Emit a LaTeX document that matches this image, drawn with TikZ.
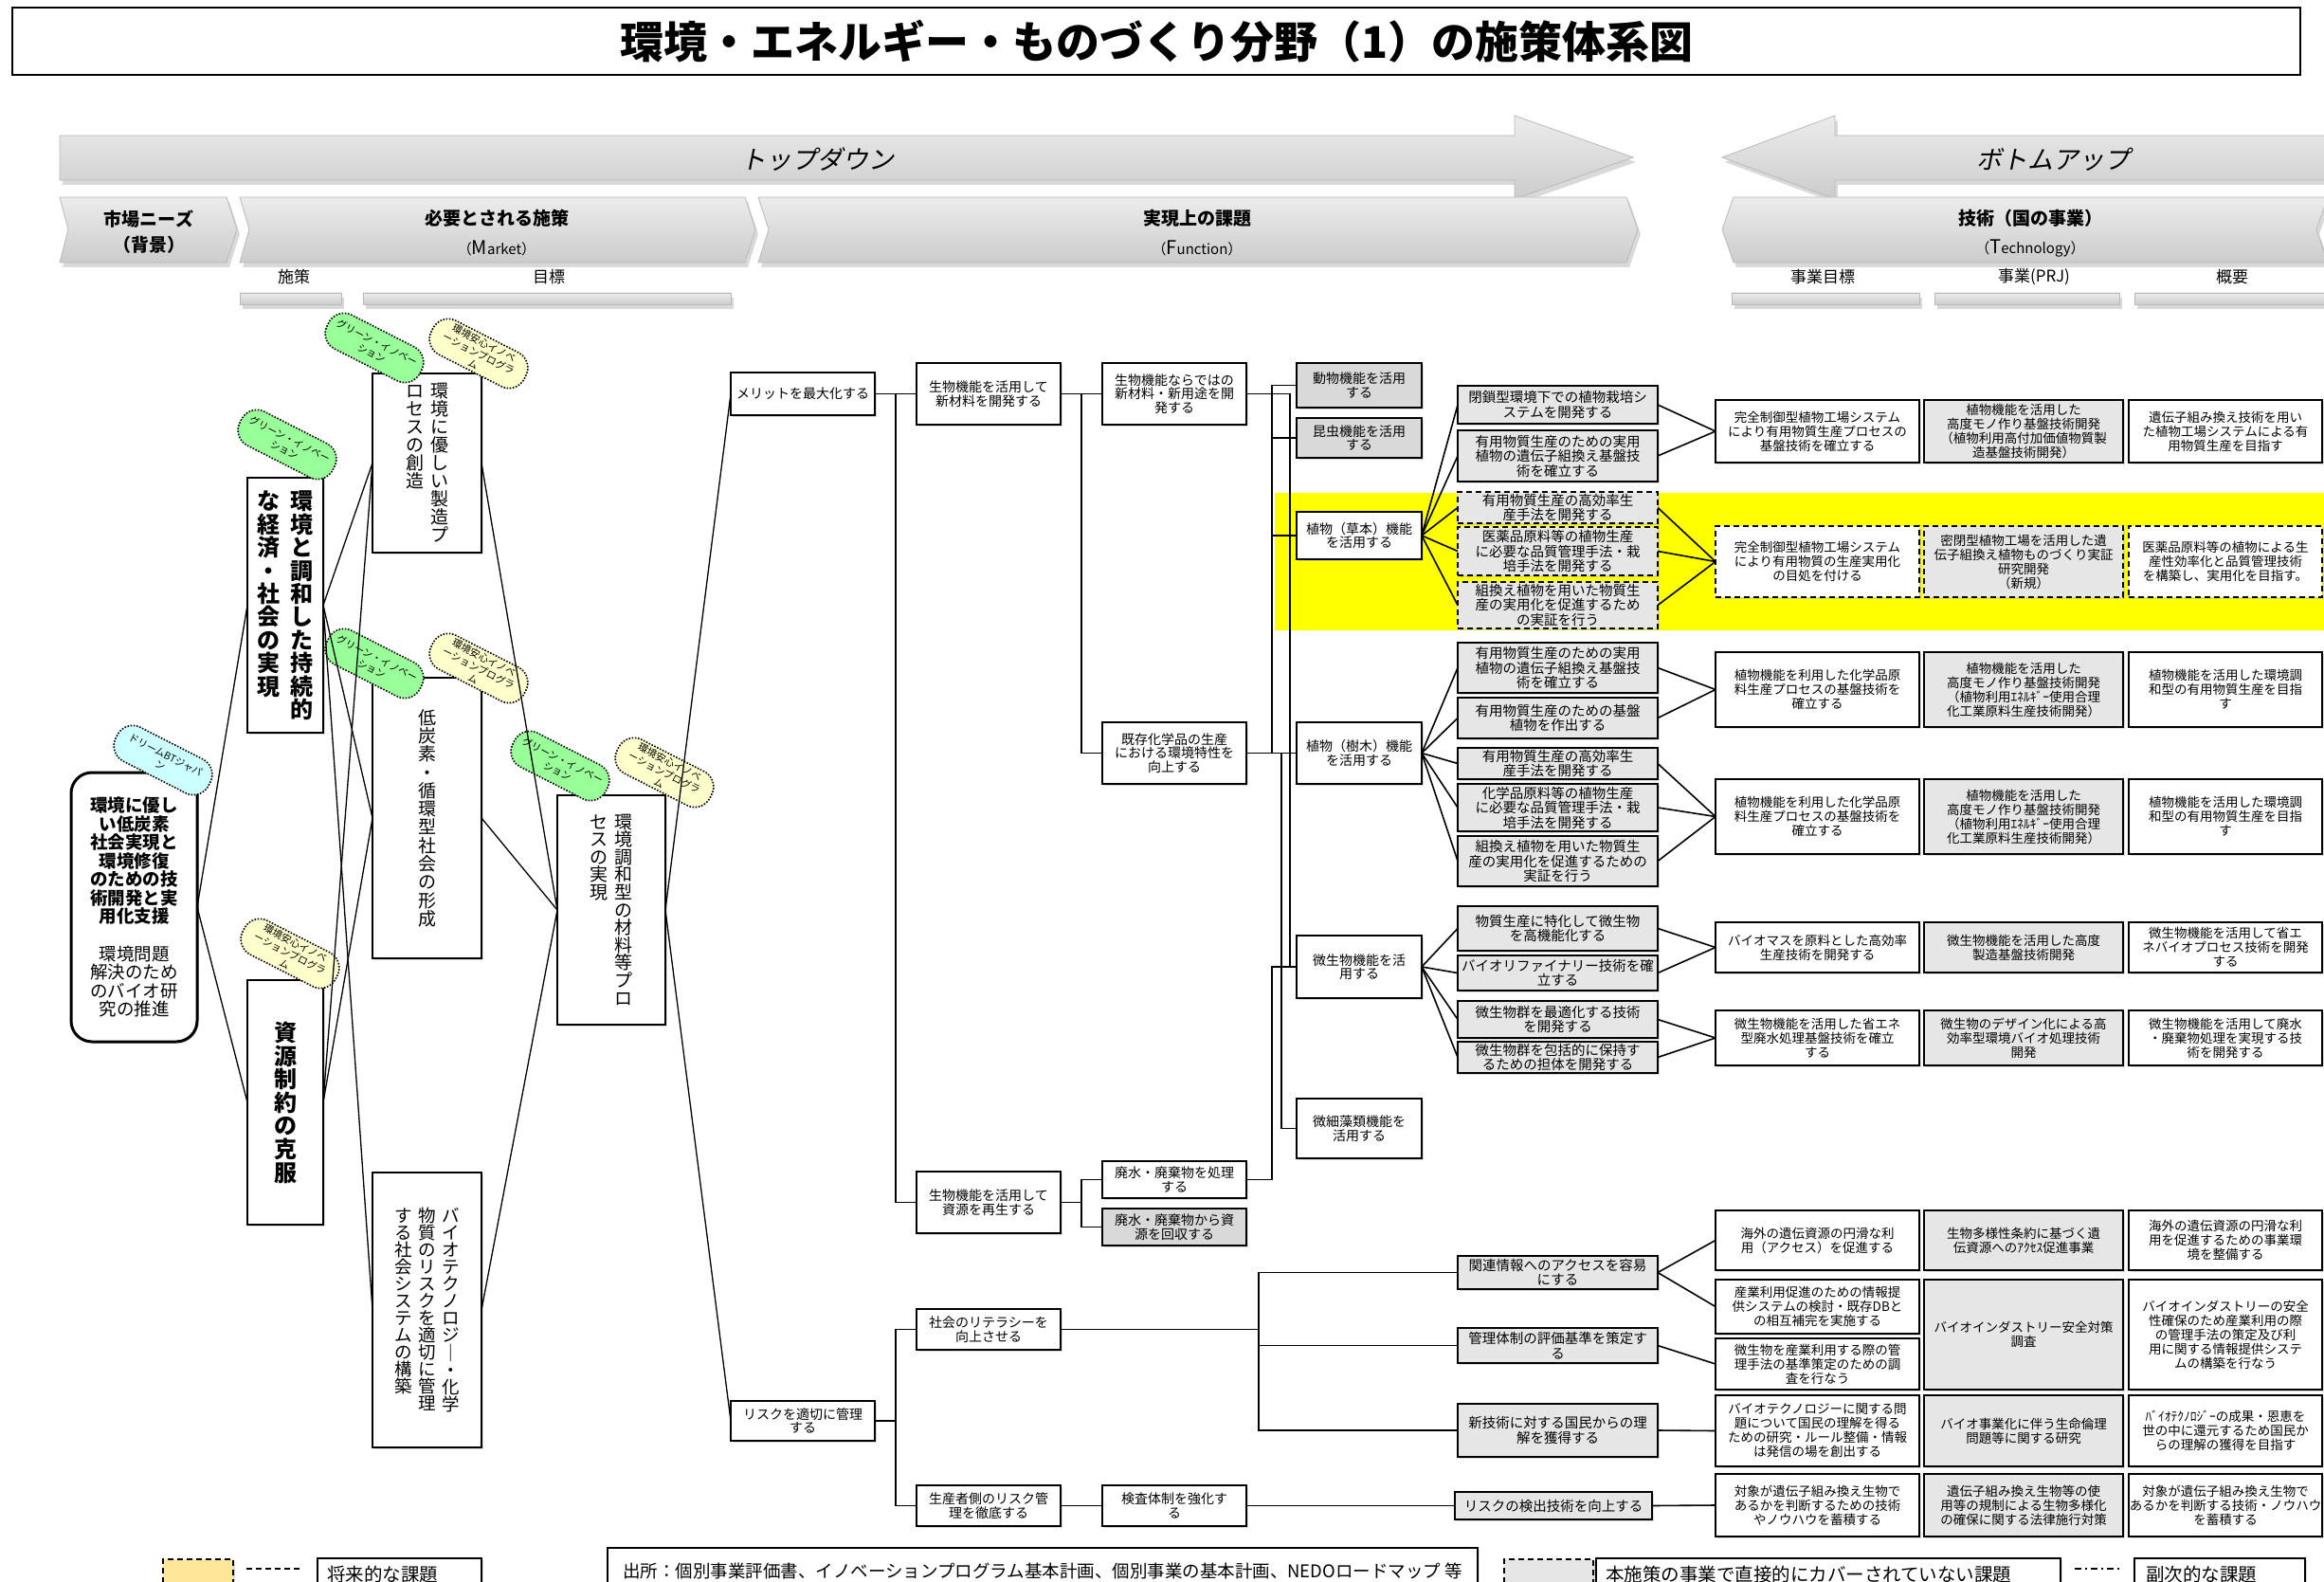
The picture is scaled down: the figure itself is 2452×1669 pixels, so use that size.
\documentclass[tikz,border=0pt]{standalone}
\usepackage{fontspec}
\setmainfont{Noto Sans CJK JP}
\newfontfamily\slfont{Noto Sans CJK JP}[FakeSlant=0.2]
\usetikzlibrary{calc,shadows}
\definecolor{bgreen}{HTML}{99FF99}
\definecolor{byellow}{HTML}{FFFFCC}
\definecolor{bcyan}{HTML}{CCFFFF}
\definecolor{lgray}{HTML}{E6E6E6}
\definecolor{mgray}{HTML}{D9D9D9}
\definecolor{legy}{HTML}{FFE699}
\definecolor{band}{HTML}{FFFF00}

\newdimen\vcolsize
\def\vset#1#2{\fontsize{#1}{#1}\selectfont\vcolsize=#2pt\relax}
\def\vcolEnd{\vcolEnd}
\def\vcol#1{\vtop{\offinterlineskip\vcolA#1\vcolEnd}}
\def\vcolA#1{\ifx#1\vcolEnd\else\hbox to\vcolsize{\hss\vrule height.88\vcolsize depth.12\vcolsize width0pt\relax#1\hss}\expandafter\vcolA\fi}

\newcommand\bx[7][]{\node[box,#1,minimum width={(#5)-(#3)},minimum height={(#6)-(#4)}] (#2) at ({((#3)+(#5))/2},{((#4)+(#6))/2}) {#7};}

\tikzset{
 box/.style={draw,line width=1.8pt,fill=white,align=center,inner sep=0pt,outer sep=0pt,
   drop shadow={shadow xshift=1.6pt,shadow yshift=-1.6pt,fill=gray!55}},
 noshadow/.style={general shadow/.style={}},
 fn/.style={font=\fontsize{14}{14.5}\selectfont},
 sb/.style={fill=lgray,font=\fontsize{14.5}{15.5}\selectfont},
 tb/.style={font=\fontsize{13.5}{15}\selectfont},
 ub/.style={tb,fill=lgray},
 dsh/.style={dash pattern=on 6pt off 4pt},
 gry/.style={fill=mgray},
 conn/.style={line width=1.6pt},
 thinl/.style={line width=1.3pt},
 bub/.style={draw,line width=1.6pt,dash pattern=on 1.6pt off 1.6pt,rounded corners=18pt,minimum width=110pt,minimum height=40pt,rotate=-27,align=center,inner sep=0pt,font=\fontsize{10.5}{12.5}\selectfont},
 hdr/.style={top color=gray!15,middle color=white,bottom color=gray!40,draw=gray!55,line width=0.8pt},
 shd/.style={fill=gray!30},
 hlab/.style={font=\fontsize{19}{19}\selectfont\bfseries},
 hsub/.style={font=\fontsize{15}{15}\selectfont},
 clab/.style={font=\fontsize{17}{17}\selectfont},
}

\begin{document}
\begin{tikzpicture}[x=1pt,y=-1pt]
\useasboundingbox (0,0) rectangle (2452,1669);
\fill[white] (0,0) rectangle (2452,1669);
\clip (0,0) rectangle (2452,1669);

% ---------- title ----------
\draw[line width=2pt] (13,8) rectangle (2427,79);
\node[font=\fontsize{46}{46}\selectfont\bfseries] (title) at (1220,44) {環境・エネルギー・ものづくり分野（1）の施策体系図};

% ---------- header arrows ----------
\begin{scope}[shift={(3,5)}]
\fill[shd] (63,143) -- (1598,143) -- (1598,122) -- (1723,166) -- (1598,210) -- (1598,190) -- (63,190) -- cycle;
\fill[shd] (2470,143) -- (1936,143) -- (1936,122) -- (1817,166) -- (1936,210) -- (1936,190) -- (2470,190) -- cycle;
\fill[shd] (63,208) -- (239,208) -- (250,242) -- (239,277) -- (63,277) -- (72,242) -- cycle;
\fill[shd] (253,208) -- (786,208) -- (797,242) -- (786,277) -- (253,277) -- (263,242) -- cycle;
\fill[shd] (800,208) -- (1716,208) -- (1728,242) -- (1716,277) -- (800,277) -- (811,242) -- cycle;
\fill[shd] (1817,242) -- (1829,208) -- (2456,208) -- (2444,242) -- (2456,277) -- (1829,277) -- cycle;
\fill[shd] (253,309) rectangle (360,321);
\fill[shd] (383,309) rectangle (771,321);
\fill[shd] (1827,309) rectangle (2025,321);
\fill[shd] (2041,309) rectangle (2236,321);
\fill[shd] (2252,309) rectangle (2470,321);
\end{scope}
\shadedraw[hdr] (63,143) -- (1598,143) -- (1598,122) -- (1723,166) -- (1598,210) -- (1598,190) -- (63,190) -- cycle;
\shadedraw[hdr] (2470,143) -- (1936,143) -- (1936,122) -- (1817,166) -- (1936,210) -- (1936,190) -- (2470,190) -- cycle;
\shadedraw[hdr] (63,208) -- (239,208) -- (250,242) -- (239,277) -- (63,277) -- (72,242) -- cycle;
\shadedraw[hdr] (253,208) -- (786,208) -- (797,242) -- (786,277) -- (253,277) -- (263,242) -- cycle;
\shadedraw[hdr] (800,208) -- (1716,208) -- (1728,242) -- (1716,277) -- (800,277) -- (811,242) -- cycle;
\shadedraw[hdr] (1817,242) -- (1829,208) -- (2456,208) -- (2444,242) -- (2456,277) -- (1829,277) -- cycle;
\shadedraw[hdr] (253,309) rectangle (360,321);
\shadedraw[hdr] (383,309) rectangle (771,321);
\shadedraw[hdr] (1827,309) rectangle (2025,321);
\shadedraw[hdr] (2041,309) rectangle (2236,321);
\shadedraw[hdr] (2252,309) rectangle (2470,321);

\node[font=\slfont\fontsize{27}{27}\selectfont] (td) at (862,168) {トップダウン};
\node[font=\slfont\fontsize{27}{27}\selectfont] (bu) at (2166,168) {ボトムアップ};
\node[hlab] (h1) at (157,231) {市場ニーズ};
\node[hlab] (h1b) at (157,258) {（背景）};
\node[hlab] (h2) at (524,230) {必要とされる施策};
\node[hsub] (h2b) at (524,262) {（{\fontsize{20}{20}\selectfont M}arket）};
\node[hlab] (h3) at (1263,230) {実現上の課題};
\node[hsub] (h3b) at (1263,262) {（{\fontsize{20}{20}\selectfont F}unction）};
\node[hlab] (h4) at (2142,230) {技術（国の事業）};
\node[hsub] (h4b) at (2142,262) {（{\fontsize{20}{20}\selectfont T}echnology）};
\node[clab] (c1) at (310,292) {施策};
\node[clab] (c2) at (579,292) {目標};
\node[clab] (c3) at (1923,292) {事業目標};
\node[clab] (c4) at (2146,292) {事業(PRJ)};
\node[clab] (c5) at (2355,292) {概要};

% ---------- yellow band ----------
\fill[band] (1345,520) rectangle (2452,665);

% ---------- left part ----------
\bx[line width=3pt,rounded corners=22pt,font=\fontsize{18.5}{19.5}\selectfont]{RB}{75}{815}{208}{1099}{\textbf{環境に優し}\\\textbf{い低炭素}\\\textbf{社会実現と}\\\textbf{環境修復}\\\textbf{のための技}\\\textbf{術開発と実}\\\textbf{用化支援}\\[20pt]環境問題\\解決のため\\のバイオ研\\究の推進}
\bx{A}{261}{504}{341}{773}{\vset{24}{24.4}\bfseries\hbox{\vcol{な経済・社会の実現}\hskip10pt\vcol{環境と調和した持続的}}}
\bx{B}{261}{1034}{341}{1292}{\vset{24}{24.6}\bfseries\vcol{資源制約の克服}}
\bx{C}{393}{394}{508}{583}{\vset{19}{19}\hbox{\vcol{ロセスの創造}\hskip7pt\vcol{環境に優しい製造プ}}}
\bx{D}{393}{715}{508}{1011}{\vset{19}{19.3}\vcol{低炭素・循環型社会の形成}}
\bx{F}{393}{1237}{508}{1527}{\vset{18.5}{18}\hbox{\vcol{する社会システムの構築}\hskip7pt\vcol{物質のリスクを適切に管理}\hskip7pt\vcol{バイオテクノロジ｜・化学}}}
\bx{E}{588}{839}{702}{1081}{\vset{19}{18.6}\hbox{\vcol{セスの実現}\hskip7pt\vcol{環境調和型の材料等プロ}}}

% ---------- function column ----------
\bx[fn]{M1}{771}{393}{923}{438}{メリットを最大化する}
\bx[fn]{M2}{771}{1478}{923}{1520}{リスクを適切に管理\\する}
\bx[fn]{N1}{967}{383}{1119}{448}{生物機能を活用して\\新材料を開発する}
\bx[fn]{N2}{967}{1236}{1119}{1301}{生物機能を活用して\\資源を再生する}
\bx[fn]{N3}{967}{1381}{1119}{1424}{社会のリテラシーを\\向上させる}
\bx[fn]{N4}{967}{1567}{1119}{1610}{生産者側のリスク管\\理を徹底する}
\bx[fn]{P1}{1163}{383}{1315}{448}{生物機能ならではの\\新材料・新用途を開\\発する}
\bx[fn]{P2}{1163}{762}{1315}{827}{既存化学品の生産\\における環境特性を\\向上する}
\bx[fn]{P3}{1163}{1225}{1315}{1264}{廃水・廃棄物を処理\\する}
\bx[fn,gry]{P4}{1163}{1275}{1315}{1314}{廃水・廃棄物から資\\源を回収する}
\bx[fn]{P5}{1163}{1567}{1315}{1610}{検査体制を強化す\\る}
\bx[fn,gry]{R1}{1368}{383}{1500}{430}{動物機能を活用\\する}
\bx[fn,gry]{R2}{1368}{441}{1500}{483}{昆虫機能を活用\\する}
\bx[fn]{R3}{1368}{540}{1500}{590}{植物（草本）機能\\を活用する}
\bx[fn]{R4}{1368}{762}{1500}{827}{植物（樹木）機能\\を活用する}
\bx[fn]{R5}{1368}{987}{1500}{1053}{微生物機能を活\\用する}
\bx[fn]{R6}{1368}{1159}{1500}{1222}{微細藻類機能を\\活用する}

\bx[sb]{S1}{1538}{407}{1749}{447}{閉鎖型環境下での植物栽培シ\\ステムを開発する}
\bx[sb]{S2}{1538}{454}{1749}{508}{有用物質生産のための実用\\植物の遺伝子組換え基盤技\\術を確立する}
\bx[sb,dsh]{S3}{1538}{519}{1749}{552}{有用物質生産の高効率生\\産手法を開発する}
\bx[sb,dsh]{S4}{1538}{556}{1749}{607}{医薬品原料等の植物生産\\に必要な品質管理手法・栽\\培手法を開発する}
\bx[sb,dsh]{S5}{1538}{614}{1749}{663}{組換え植物を用いた物質生\\産の実用化を促進するため\\の実証を行う}
\bx[sb]{S6}{1538}{678}{1749}{731}{有用物質生産のための実用\\植物の遺伝子組換え基盤技\\術を確立する}
\bx[sb]{S7}{1538}{736}{1749}{779}{有用物質生産のための基盤\\植物を作出する}
\bx[sb]{S8}{1538}{789}{1749}{822}{有用物質生産の高効率生\\産手法を開発する}
\bx[sb]{S9}{1538}{827}{1749}{877}{化学品原料等の植物生産\\に必要な品質管理手法・栽\\培手法を開発する}
\bx[sb]{S10}{1538}{882}{1749}{935}{組換え植物を用いた物質生\\産の実用化を促進するための\\実証を行う}
\bx[sb]{S11}{1538}{956}{1749}{1003}{物質生産に特化して微生物\\を高機能化する}
\bx[sb]{S12}{1538}{1008}{1749}{1045}{バイオリファイナリー技術を確\\立する}
\bx[sb]{S13}{1538}{1056}{1749}{1095}{微生物群を最適化する技術\\を開発する}
\bx[sb]{S14}{1538}{1099}{1749}{1132}{微生物群を包括的に保持す\\るための担体を開発する}
\bx[sb]{S15}{1538}{1325}{1749}{1360}{関連情報へのアクセスを容易\\にする}
\bx[sb]{S16}{1538}{1401}{1749}{1438}{管理体制の評価基準を策定す\\る}
\bx[sb]{S17}{1538}{1481}{1749}{1537}{新技術に対する国民からの理\\解を獲得する}
\bx[sb]{S18}{1535}{1574}{1743}{1603}{リスクの検出技術を向上する}

% ---------- technology columns ----------
\bx[tb]{T1}{1810}{422}{2025}{488}{完全制御型植物工場システム\\により有用物質生産プロセスの\\基盤技術を確立する}
\bx[ub]{U1}{2030}{422}{2240}{488}{植物機能を活用した\\高度モノ作り基盤技術開発\\（植物利用高付加価値物質製\\造基盤技術開発）}
\bx[tb]{V1}{2246}{422}{2450}{488}{遺伝子組み換え技術を用い\\た植物工場システムによる有\\用物質生産を目指す}
\bx[tb,dsh]{T2}{1810}{555}{2025}{630}{完全制御型植物工場システム\\により有用物質の生産実用化\\の目処を付ける}
\bx[ub,dsh]{U2}{2030}{555}{2240}{630}{密閉型植物工場を活用した遺\\伝子組換え植物ものづくり実証\\研究開発\\（新規）}
\bx[tb,dsh]{V2}{2246}{555}{2450}{630}{医薬品原料等の植物による生\\産性効率化と品質管理技術\\を構築し、実用化を目指す。}
\bx[tb]{T3}{1810}{688}{2025}{767}{植物機能を利用した化学品原\\料生産プロセスの基盤技術を\\確立する}
\bx[ub]{U3}{2030}{688}{2240}{767}{植物機能を活用した\\高度モノ作り基盤技術開発\\（植物利用ｴﾈﾙｷﾞｰ使用合理\\化工業原料生産技術開発）}
\bx[tb]{V3}{2246}{688}{2450}{767}{植物機能を活用した環境調\\和型の有用物質生産を目指\\す}
\bx[tb]{T4}{1810}{822}{2025}{901}{植物機能を利用した化学品原\\料生産プロセスの基盤技術を\\確立する}
\bx[ub]{U4}{2030}{822}{2240}{901}{植物機能を活用した\\高度モノ作り基盤技術開発\\（植物利用ｴﾈﾙｷﾞｰ使用合理\\化工業原料生産技術開発）}
\bx[tb]{V4}{2246}{822}{2450}{901}{植物機能を活用した環境調\\和型の有用物質生産を目指\\す}
\bx[tb]{T5}{1810}{973}{2025}{1026}{バイオマスを原料とした高効率\\生産技術を開発する}
\bx[ub]{U5}{2030}{973}{2240}{1026}{微生物機能を活用した高度\\製造基盤技術開発}
\bx[tb]{V5}{2246}{973}{2450}{1026}{微生物機能を活用して省エ\\ネバイオプロセス技術を開発\\する}
\bx[tb]{T6}{1810}{1066}{2025}{1124}{微生物機能を活用した省エネ\\型廃水処理基盤技術を確立\\する}
\bx[ub]{U6}{2030}{1066}{2240}{1124}{微生物のデザイン化による高\\効率型環境バイオ処理技術\\開発}
\bx[tb]{V6}{2246}{1066}{2450}{1124}{微生物機能を活用して廃水\\・廃棄物処理を実現する技\\術を開発する}
\bx[tb]{T7}{1810}{1277}{2025}{1340}{海外の遺伝資源の円滑な利\\用（アクセス）を促進する}
\bx[ub]{U7}{2030}{1277}{2240}{1340}{生物多様性条約に基づく遺\\伝資源へのｱｸｾｽ促進事業}
\bx[tb]{V7}{2246}{1277}{2450}{1340}{海外の遺伝資源の円滑な利\\用を促進するための事業環\\境を整備する}
\bx[tb]{T8}{1810}{1350}{2025}{1407}{産業利用促進のための情報提\\供システムの検討・既存DBと\\の相互補完を実施する}
\bx[tb]{T9}{1810}{1412}{2025}{1466}{微生物を産業利用する際の管\\理手法の基準策定のための調\\査を行なう}
\bx[ub]{U8}{2030}{1350}{2240}{1466}{バイオインダストリー安全対策\\調査}
\bx[tb]{V8}{2246}{1350}{2450}{1466}{バイオインダストリーの安全\\性確保のため産業利用の際\\の管理手法の策定及び利\\用に関する情報提供システ\\ムの構築を行なう}
\bx[tb]{T10}{1810}{1472}{2025}{1547}{バイオテクノロジーに関する問\\題について国民の理解を得る\\ための研究・ルール整備・情報\\は発信の場を創出する}
\bx[ub]{U9}{2030}{1472}{2240}{1547}{バイオ事業化に伴う生命倫理\\問題等に関する研究}
\bx[tb]{V9}{2246}{1472}{2450}{1547}{ﾊﾞｲｵﾃｸﾉﾛｼﾞｰの成果・恩恵を\\世の中に還元するため国民か\\らの理解の獲得を目指す}
\bx[tb]{T11}{1810}{1555}{2025}{1621}{対象が遺伝子組み換え生物で\\あるかを判断するための技術\\やノウハウを蓄積する}
\bx[ub]{U10}{2030}{1555}{2240}{1621}{遺伝子組み換え生物等の使\\用等の規制による生物多様化\\の確保に関する法律施行対策}
\bx[tb]{V10}{2246}{1555}{2450}{1621}{対象が遺伝子組み換え生物で\\あるかを判断する技術・ノウハウ\\を蓄積する}

% ---------- bubbles ----------
\node[bub,fill=bgreen] (g1) at (395,367) {グリーン・イノベー\\ション};
\node[bub,fill=byellow] (y1) at (505,373) {環境安心イノベ\\ーションプログラ\\ム};
\node[bub,fill=bgreen] (g2) at (303,469) {グリーン・イノベー\\ション};
\node[bub,fill=bgreen] (g3) at (395,700) {グリーン・イノベー\\ション};
\node[bub,fill=byellow] (y2) at (505,705) {環境安心イノベ\\ーションプログラ\\ム};
\node[bub,fill=bgreen] (g4) at (591,808) {グリーン・イノベー\\ション};
\node[bub,fill=byellow] (y3) at (701,815) {環境安心イノベ\\ーションプログラ\\ム};
\node[bub,fill=byellow] (y4) at (306,1006) {環境安心イノベ\\ーションプログラ\\ム};
\node[bub,fill=bcyan] (cy) at (172,802) {ドリームBTジャパ\\ン};

% ---------- connectors: left ----------
\foreach \a/\b in {RB/A,RB/B,A/C,A/D,A/F,B/C,B/D,C/E,D/E,F/E,E/M1,E/M2}
  \draw[thinl] (\a.east) -- (\b.west);

% ---------- connectors: function tree ----------
\draw[conn] (M1.east) -- (N1.west);
\draw[conn] (M1.east) -- ++(22,0) |- (N2.west);
\draw[conn] (M2.east) -- ++(22,0) |- (N3.west);
\draw[conn] (M2.east) -- ++(22,0) |- (N4.west);
\draw[conn] (N1.east) -- (P1.west);
\draw[conn] (N1.east) -- ++(22,0) |- (P2.west);
\draw[conn] (N2.east) -- ++(22,0) |- (P3.west);
\draw[conn] (N2.east) -- ++(22,0) |- (P4.west);
\draw[conn] (N4.east) -- (P5.west);
\draw[conn] (P5.east) -- (S18.west);
\draw[conn] (N3.east) -- ++(209,0) coordinate (bus);
\draw[conn] (bus) |- (S15.west);
\draw[conn] (bus) |- (S16.west);
\draw[conn] (bus) |- (S17.west);
\draw[conn] (P1.east) -- ++(46,0) |- (R5.west);
\draw[conn] (P2.east) -- (R4.west);
\draw[conn] (P2.east) -- ++(27,0) |- (R1.west);
\draw[conn] (P2.east) -- ++(27,0) |- (R2.west);
\draw[conn] (P2.east) -- ++(27,0) |- (R3.west);
\draw[conn] (P2.east) -- ++(37,0) |- (R6.west);
\draw[conn] (P3.east) -- ++(27,0) |- (R5.west);

% fans
\foreach \s in {S1,S2,S3,S4,S5} \draw[conn] (R3.east) -- (\s.west);
\foreach \s in {S6,S7,S8,S9,S10} \draw[conn] (R4.east) -- (\s.west);
\foreach \s in {S11,S12,S13,S14} \draw[conn] (R5.east) -- (\s.west);
\foreach \a/\b in {S1/T1,S2/T1,S3/T2,S4/T2,S5/T2,S6/T3,S7/T3,S8/T4,S9/T4,S10/T4,S11/T5,S12/T5,S13/T6,S14/T6,S15/T7,S15/T8,S16/T9,S17/T10,S18/T11}
  \draw[conn] (\a.east) -- (\b.west);

% ---------- legend ----------
\bx[noshadow,dsh,fill=legy]{L1}{172}{1645}{246}{1678}{}
\draw[line width=1.5pt,dash pattern=on 6pt off 4pt] (260,1655) -- (316,1655);
\bx[noshadow,font=\fontsize{19.5}{19.5}\selectfont,text width=153pt,align=left]{L2}{335}{1644}{508}{1678}{将来的な課題}
\bx[noshadow,font=\fontsize{18.5}{18.5}\selectfont]{L3}{641}{1633}{1559}{1681}{出所：個別事業評価書、イノベーションプログラム基本計画、個別事業の基本計画、NEDOロードマップ 等}
\draw[line width=2.5pt] (L3.north west) -- (L3.north east);
\bx[noshadow,dsh,fill=lgray]{L4}{1587}{1645}{1681}{1678}{}
\bx[noshadow,font=\fontsize{19.5}{19.5}\selectfont,text width=470pt,align=left]{L5}{1684}{1644}{2174}{1678}{本施策の事業で直接的にカバーされていない課題}
\draw[line width=1.5pt,dash pattern=on 7pt off 4pt on 2pt off 4pt] (2189,1655) -- (2239,1655);
\bx[noshadow,font=\fontsize{19.5}{19.5}\selectfont,text width=156pt,align=left]{L6}{2252}{1644}{2432}{1678}{副次的な課題}
\end{tikzpicture}
\end{document}
